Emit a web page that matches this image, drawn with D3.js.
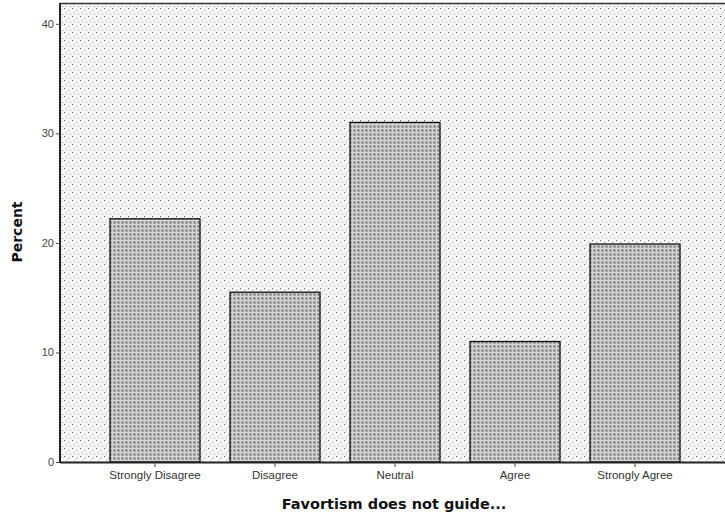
<!DOCTYPE html>
<html><head><meta charset="utf-8">
<script src="https://cdn.jsdelivr.net/npm/d3@7"></script>
<style>body{margin:0;background:#fff}svg{display:block}</style>
</head><body><div id="chart"></div>
<script>
const categories = ["Strongly Disagree","Disagree","Neutral","Agree","Strongly Agree"];
const percents = [22.2, 15.5, 31.0, 11.0, 19.9];
const yTicks = [0, 10, 20, 30, 40];
const xTitle = "Favortism does not guide...";
const yTitle = "Percent";

const W = 725, H = 521;
const svg = d3.select("#chart").append("svg").attr("width", W).attr("height", H);
const defs = svg.append("defs");

// background stipple pattern
const bg = defs.append("pattern").attr("id","bgpat").attr("patternUnits","userSpaceOnUse").attr("width",8).attr("height",8);
bg.append("rect").attr("width",8).attr("height",8).attr("fill","#f6f6f6");
[[0,0,"#555"],[4,2,"#aaa"],[2,4,"#bbb"],[6,6,"#999"],[5,1,"#ccc"],[1,6,"#ccc"]].forEach(([x,y,c])=>
  bg.append("rect").attr("x",x).attr("y",y).attr("width",1).attr("height",1).attr("fill",c));

// bar mesh pattern
const bp = defs.append("pattern").attr("id","barpat").attr("patternUnits","userSpaceOnUse").attr("width",4).attr("height",4);
bp.append("rect").attr("width",4).attr("height",4).attr("fill","#a8a8a8");
bp.append("rect").attr("x",0).attr("y",0).attr("width",4).attr("height",1).attr("fill","#d8d8d8");
bp.append("rect").attr("x",0).attr("y",0).attr("width",1).attr("height",4).attr("fill","#d4d4d4");
bp.append("rect").attr("x",2).attr("y",2).attr("width",1).attr("height",1).attr("fill","#6a6a6a");

const plot = {left: 60, top: 3, right: 726, bottom: 462};
const x = d3.scaleBand().domain(categories).range([95, 695]).paddingInner(0.25).paddingOuter(0.125);
const y = d3.scaleLinear().domain([0, 41.9]).range([plot.bottom, plot.top]);

svg.append("rect").attr("x",plot.left).attr("y",plot.top)
  .attr("width",plot.right-plot.left).attr("height",plot.bottom-plot.top)
  .attr("fill","url(#bgpat)");

svg.append("g").selectAll("rect").data(categories).join("rect")
  .attr("x", d => x(d)).attr("width", x.bandwidth())
  .attr("y", (d,i) => y(percents[i])).attr("height", (d,i) => y(0) - y(percents[i]))
  .attr("fill","url(#barpat)").attr("stroke","#111").attr("stroke-width",1.3);

// frame
svg.append("line").attr("x1",plot.left).attr("x2",plot.right).attr("y1",plot.top+0.5).attr("y2",plot.top+0.5)
  .attr("stroke","#333").attr("stroke-width",1.5);
svg.append("line").attr("x1",plot.left).attr("x2",plot.left).attr("y1",plot.top).attr("y2",plot.bottom)
  .attr("stroke","#222").attr("stroke-width",2);

const yAxis = d3.axisLeft(y).tickValues(yTicks).tickSize(4).tickPadding(2).tickFormat(d3.format("d"));
const gy = svg.append("g").attr("transform",`translate(${plot.left},0)`).call(yAxis);
gy.select(".domain").remove();
gy.selectAll("line").attr("stroke","#444");
gy.selectAll("text").attr("font-family","Arial, Liberation Sans, sans-serif").attr("font-size",11).attr("fill","#444");

const xAxis = d3.axisBottom(x).tickSize(5).tickPadding(4);
const gx = svg.append("g").attr("transform",`translate(0,${plot.bottom})`).call(xAxis);
gx.select(".domain").attr("d",`M${plot.left},0.5H${plot.right}`).attr("stroke","#222").attr("stroke-width",2);
gx.selectAll("line").attr("stroke","#444");
gx.selectAll("text").attr("font-family","Arial, Liberation Sans, sans-serif").attr("font-size",11.5).attr("fill","#333");

svg.append("text").attr("x",394).attr("y",509).attr("text-anchor","middle")
  .attr("font-family","Verdana, DejaVu Sans, sans-serif").attr("font-weight","bold").attr("font-size",14.5)
  .attr("fill","#111").text(xTitle);
svg.append("text").attr("transform","translate(22,232) rotate(-90)").attr("text-anchor","middle")
  .attr("font-family","Verdana, DejaVu Sans, sans-serif").attr("font-weight","bold").attr("font-size",14)
  .attr("fill","#111").text(yTitle);
</script></body></html>
